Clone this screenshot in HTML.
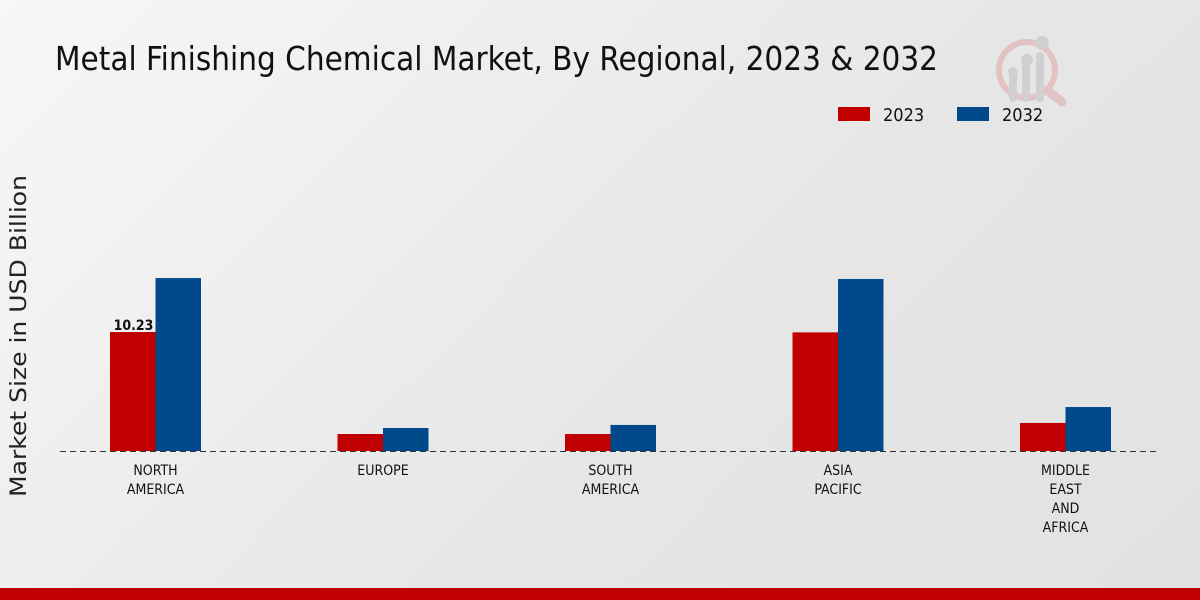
<!DOCTYPE html>
<html><head><meta charset="utf-8"><style>
body{margin:0;width:1200px;height:600px;overflow:hidden;background:linear-gradient(135deg,#f7f7f7 0%,#e6e6e6 60%,#e2e2e2 100%);font-family:"DejaVu Sans",sans-serif}
svg{position:absolute;left:0;top:0}
.c{font-family:"DejaVu Sans Condensed","DejaVu Sans",sans-serif;font-stretch:condensed}
</style></head><body>
<svg width="1200" height="600">
<text class="c" x="55" y="70" font-size="33" fill="#111" textLength="883" lengthAdjust="spacingAndGlyphs">Metal Finishing Chemical Market, By Regional, 2023 &amp; 2032</text>
<g opacity="0.5">
<circle cx="1027" cy="70" r="28" fill="none" stroke="#e0a0a0" stroke-width="6"/>
<line x1="1047" y1="90" x2="1062" y2="102" stroke="#e0a0a0" stroke-width="9" stroke-linecap="round"/>
<rect x="1009" y="72" width="8" height="30" rx="4" fill="#bbb"/><rect x="1022" y="62" width="8" height="40" rx="4" fill="#bbb"/><rect x="1036" y="52" width="8" height="50" rx="4" fill="#bbb"/>
<circle cx="1013" cy="72" r="5" fill="#bbb"/><circle cx="1027" cy="60" r="6" fill="#bbb"/><circle cx="1042" cy="43" r="7" fill="#bbb"/>
</g>
<rect x="838" y="107" width="32" height="14" fill="#c00000"/>
<text class="c" x="883" y="121" font-size="18" fill="#111">2023</text>
<rect x="957" y="107" width="32" height="14" fill="#004a8c"/>
<text class="c" x="1002" y="121" font-size="18" fill="#111">2032</text>
<text transform="translate(26,336) rotate(-90)" text-anchor="middle" font-size="22" fill="#222" textLength="322" lengthAdjust="spacingAndGlyphs">Market Size in USD Billion</text>
<g id="bars"></g>
<line x1="60" y1="451.5" x2="1160" y2="451.5" stroke="#333" stroke-dasharray="6,4" stroke-width="1"/>
<g id="labels"></g>
<rect x="0" y="588" width="1200" height="12" fill="#c00000"/>
</svg>
<script>
const categories=[["NORTH","AMERICA"],["EUROPE"],["SOUTH","AMERICA"],["ASIA","PACIFIC"],["MIDDLE","EAST","AND","AFRICA"]];
const values2023=[10.23,1.46,1.46,10.2,2.41];
const values2032=[14.87,1.98,2.24,14.79,3.78];
const shownLabels=["10.23","","","",""];
const NS="http://www.w3.org/2000/svg";
const base=451, scale=11.63;
const xc=i=>155.5+i*227.5;
const y=v=>base-v*scale;
const bars=document.getElementById('bars'),labels=document.getElementById('labels');
function rect(x,v,c,n){const r=document.createElementNS(NS,'rect');r.setAttribute('x',x);r.setAttribute('y',y(v));r.setAttribute('width',45.5);r.setAttribute('height',base-y(v));r.setAttribute('fill',c);


bars.appendChild(r);}
categories.forEach((cat,i)=>{
rect(xc(i)-45.5,values2023[i],'#c00000','bar-2023-'+i);
rect(xc(i),values2032[i],'#004a8c','bar-2032-'+i);
if(shownLabels[i]){const t=document.createElementNS(NS,'text');t.setAttribute('x',xc(i)-22);t.setAttribute('y',y(values2023[i])-2);t.setAttribute('text-anchor','middle');t.setAttribute('font-size','14');t.setAttribute('font-weight','bold');t.setAttribute('class','c');t.setAttribute('fill','#111');t.textContent=shownLabels[i];


labels.appendChild(t);}
cat.forEach((line,j)=>{const t=document.createElementNS(NS,'text');t.setAttribute('x',xc(i));t.setAttribute('y',475+j*19);t.setAttribute('text-anchor','middle');t.setAttribute('font-size','14');t.setAttribute('class','c');t.setAttribute('fill','#111');t.textContent=line;


labels.appendChild(t);});
});
</script>
</body></html>
